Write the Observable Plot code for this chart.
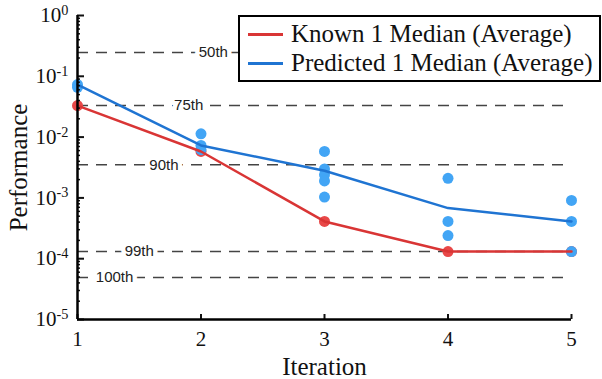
<!DOCTYPE html>
<html>
<head>
<meta charset="utf-8">
<script src="https://cdn.jsdelivr.net/npm/d3@7"></script>
<script src="https://cdn.jsdelivr.net/npm/@observablehq/plot@0.6"></script>
<style>
  body { margin: 0; background: #fff; }
  #wrap { position: relative; width: 602px; height: 379px; }
  #legend {
    position: absolute; left: 238px; top: 15px; width: 359px; height: 63px;
    border: 2px solid #000; background: #fff;
    font-family: "Liberation Serif", "Times New Roman", serif; font-size: 25px; color: #111;
  }
  .row { position: absolute; left: 0; height: 30px; display: flex; align-items: center; white-space: nowrap; }
  .sw { display: inline-block; width: 35px; height: 3px; margin-left: 8px; margin-right: 8px; }
</style>
</head>
<body>
<div id="wrap">
  <div id="chart"></div>
  <div id="legend">
    <div class="row" style="top:2px"><span class="sw" style="background:#d93535"></span><span>Known 1 Median (Average)</span></div>
    <div class="row" style="top:31px"><span class="sw" style="background:#1f74d2"></span><span>Predicted 1 Median (Average)</span></div>
  </div>
</div>
<script>
// ---- data ----
const iterations = [1, 2, 3, 4, 5];
const knownMedian = [0.033, 0.0058, 0.00041, 0.000131, 0.000131];
const predictedMedian = [0.073, 0.0073, 0.0028, 0.00068, 0.00041];

const knownRunIteration = [1, 2, 3, 4, 5];
const knownRunPerformance = [0.033, 0.0058, 0.00041, 0.000131, 0.000131];

const predictedRunIteration = [1, 1, 2, 2, 2, 3, 3, 3, 3, 3, 4, 4, 4, 5, 5, 5];
const predictedRunPerformance = [0.073, 0.066, 0.0113, 0.0073, 0.0062,
  0.0058, 0.0030, 0.0024, 0.0019, 0.00103,
  0.0021, 0.00041, 0.00024,
  0.00091, 0.00041, 0.000131];

const percentileNames = ["50th", "75th", "90th", "99th", "100th"];
const percentileValues = [0.246, 0.033, 0.0035, 0.000131, 0.000049];

const yTickValues = [1e-5, 1e-4, 1e-3, 1e-2, 1e-1, 1];
const xTickValues = [1, 2, 3, 4, 5];

// ---- derived tables ----
const known = iterations.map((x, i) => ({x, y: knownMedian[i]}));
const predicted = iterations.map((x, i) => ({x, y: predictedMedian[i]}));
const knownRuns = knownRunIteration.map((x, i) => ({x, y: knownRunPerformance[i]}));
const predictedRuns = predictedRunIteration.map((x, i) => ({x, y: predictedRunPerformance[i]}));
const percentiles = percentileNames.map((name, i) => ({name, y: percentileValues[i], i}));
const minorTicks = [];
for (const d of yTickValues.slice(0, -1)) for (let m = 2; m <= 9; ++m) minorTicks.push(d * m);

const serif = "Liberation Serif, Times New Roman, serif";
const RED = "#d93535", BLUE = "#1f74d2", RED_DOT = "#e84848", BLUE_DOT = "#42a5f5";

const chart = Plot.plot({
  width: 602, height: 379,
  marginLeft: 77, marginRight: 31, marginTop: 15, marginBottom: 60,
  x: {domain: [1, 5]},
  y: {type: "log", domain: [1e-5, 1]},
  style: {fontFamily: serif, background: "#fff", color: "#111"},
  marks: [
    Plot.ruleY(percentiles, {y: "y", stroke: "#444", strokeWidth: 1.5, strokeDasharray: "11,8"}),
    Plot.text(percentiles, {
      x: d => 2.1 - 0.2 * d.i, y: "y", text: "name",
      fontFamily: "Liberation Sans, Arial, sans-serif", fontSize: 15, fill: "#222",
      stroke: "#fff", strokeWidth: 9, paintOrder: "stroke"
    }),
    Plot.dot(knownRuns, {x: "x", y: "y", r: 5.5, fill: RED_DOT}),
    Plot.dot(predictedRuns, {x: "x", y: "y", r: 5.5, fill: BLUE_DOT}),
    Plot.line(known, {x: "x", y: "y", stroke: RED, strokeWidth: 2.5}),
    Plot.line(predicted, {x: "x", y: "y", stroke: BLUE, strokeWidth: 2.5}),
    // axes
    Plot.axisY({ticks: minorTicks, tickSize: -3, tickFormat: () => "", label: null, strokeWidth: 1.5}),
    Plot.axisY({ticks: yTickValues, tickSize: -7, tickFormat: () => "", label: null, strokeWidth: 2}),
    Plot.axisY({ticks: yTickValues, tickSize: 0, tickPadding: 9, label: null, fontSize: 21,
      tickFormat: d => "10|" + Math.round(Math.log10(d))}),
    Plot.axisX({ticks: xTickValues, tickSize: -5, tickFormat: () => "", label: null, strokeWidth: 2}),
    Plot.axisX({ticks: xTickValues, tickSize: 0, tickPadding: 12, label: null, fontSize: 21,
      tickFormat: d => String(d)}),
    Plot.ruleX([1], {stroke: "#000", strokeWidth: 2.5}),
    Plot.ruleY([1e-5], {stroke: "#000", strokeWidth: 2.5}),
    Plot.text(["Performance"], {frameAnchor: "left", dx: -59, rotate: -90, fontSize: 25, fill: "#111",
      textAnchor: "middle", lineAnchor: "middle"}),
    Plot.text(["Iteration"], {frameAnchor: "bottom", dy: 47, fontSize: 25, fill: "#111",
      textAnchor: "middle", lineAnchor: "middle"})
  ]
});
document.getElementById("chart").appendChild(chart);

// superscript exponents on y tick labels
d3.select(chart).selectAll("text").each(function() {
  const t = this.textContent;
  const m = /^10\|(-?\d+)$/.exec(t);
  if (!m) return;
  const sel = d3.select(this);
  sel.text(null);
  sel.append("tspan").text("10");
  sel.append("tspan").attr("dy", "-0.5em").attr("font-size", "0.68em").text(m[1]);
});
</script>
</body>
</html>
